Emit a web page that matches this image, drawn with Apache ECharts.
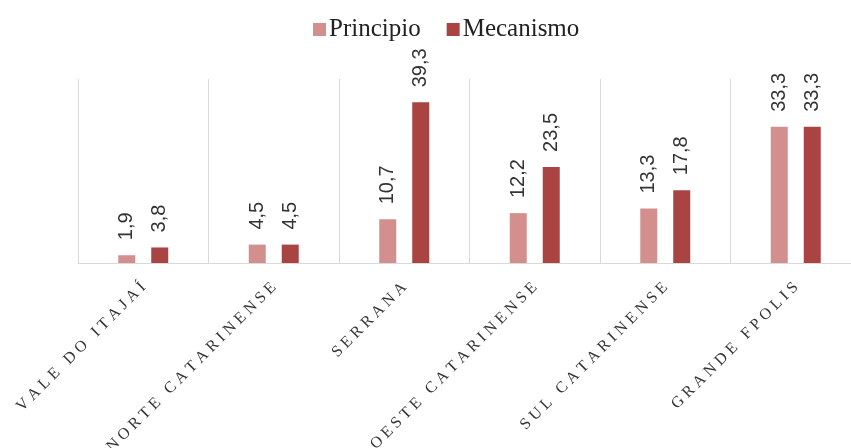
<!DOCTYPE html>
<html>
<head>
<meta charset="utf-8">
<title>Principio x Mecanismo</title>
<script src="https://cdn.jsdelivr.net/npm/echarts@6/dist/echarts.min.js"></script>
<style>
    html, body { margin: 0; padding: 0; background: #fff; }
    #chart { width: 851px; height: 448px; }
</style>
</head>
<body>
<div id="chart"></div>
<script>
var categories = ['VALE DO ITAJAÍ', 'NORTE CATARINENSE', 'SERRANA', 'OESTE CATARINENSE', 'SUL CATARINENSE', 'GRANDE FPOLIS'];
var principio = [1.9, 4.5, 10.7, 12.2, 13.3, 33.3];
var mecanismo = [3.8, 4.5, 39.3, 23.5, 17.8, 33.3];
var seriesNames = ['Principio', 'Mecanismo'];

(function () {
    'use strict';

    var chart = echarts.init(document.getElementById('chart'));

    // espaçamento entre letras nos rótulos do eixo
    function spaced(txt) {
        return txt.split(' ').map(function (w) {
            return w.split('').join(' ');
        }).join('   ');
    }

    function fmt(v) {
        return v.toFixed(1).replace('.', ',');
    }

    var labelOpt = {
        show: true,
        position: 'top',
        distance: 15,
        rotate: 90,
        align: 'left',
        verticalAlign: 'middle',
        fontFamily: 'Liberation Sans, Arial, sans-serif',
        fontSize: 20,
        color: '#333',
        formatter: function (p) { return fmt(p.value); }
    };

    chart.setOption({
        animation: false,
        legend: {
            data: seriesNames,
            left: 308,
            top: 12,
            itemWidth: 13,
            itemHeight: 13,
            itemGap: 26,
            icon: 'rect',
            textStyle: { fontFamily: 'Liberation Serif, Times New Roman, serif', fontSize: 25, color: '#222', padding: [0, 0, 0, -2] }
        },
        grid: { left: 78, top: 79, width: 783, bottom: 185, outerBoundsMode: 'none' },
        xAxis: {
            type: 'category',
            data: categories,
            axisLine: { lineStyle: { color: '#d9d9d9', width: 1 } },
            axisTick: { show: false },
            splitLine: { show: true, lineStyle: { color: '#d9d9d9', width: 1 } },
            axisLabel: {
                interval: 0,
                rotate: 45,
                margin: 22,
                fontFamily: 'Liberation Serif, Times New Roman, serif',
                fontSize: 16,
                color: '#333',
                formatter: spaced
            }
        },
        yAxis: {
            type: 'value',
            min: 0,
            max: 45,
            show: false,
            splitLine: { show: false }
        },
        series: [{
            name: seriesNames[0], type: 'bar', data: principio,
            barWidth: 17, barGap: '94%',
            itemStyle: { color: '#d38f8e' },
            label: labelOpt
        }, {
            name: seriesNames[1], type: 'bar', data: mecanismo,
            barWidth: 17, barGap: '94%',
            itemStyle: { color: '#a94442' },
            label: labelOpt
        }]
    });
})();
</script>
</body>
</html>
